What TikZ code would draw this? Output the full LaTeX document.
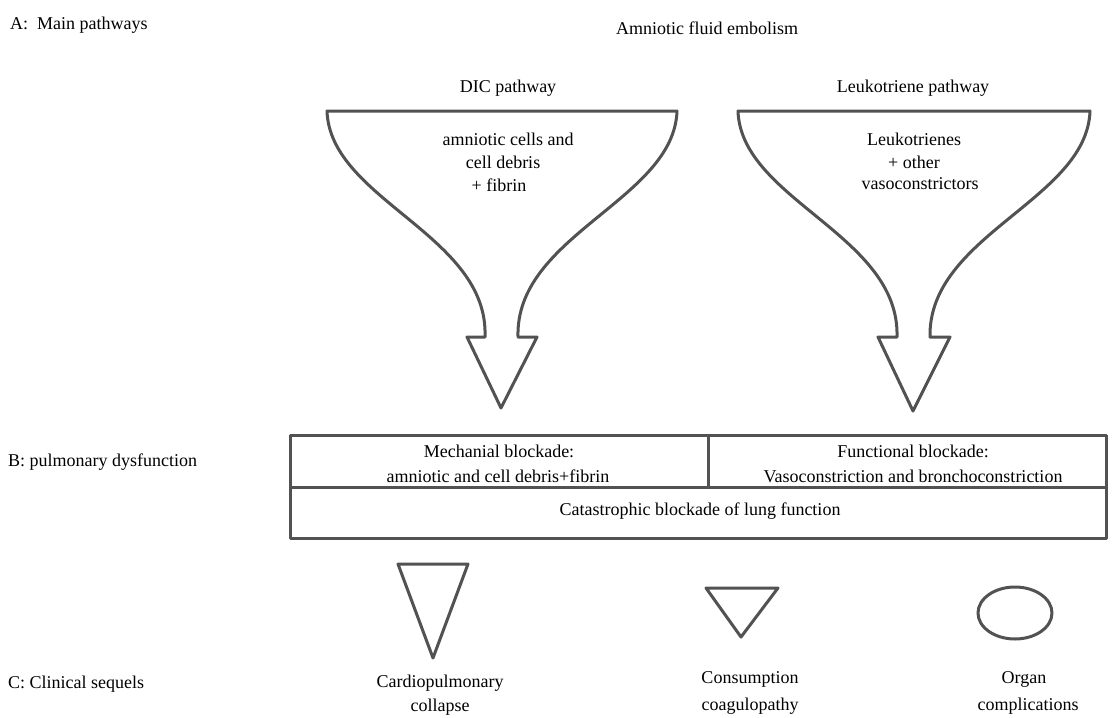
\documentclass[tikz,border=0pt]{standalone}
\usepackage{fontspec}
\setmainfont{Liberation Serif}
\begin{document}
\begin{tikzpicture}[x=1pt,y=-1pt,
  lbl/.style={inner sep=0pt, font=\fontsize{18}{21}\selectfont, text height=12pt, text depth=4pt},
  shp/.style={draw=black!68, line width=3pt, line join=round},
]
\useasboundingbox (0,0) rectangle (1112,718);
\fill[white] (0,0) rectangle (1112,718);

% section labels
\node[lbl, anchor=west] (labA) at (10,25) {A:\ \ Main pathways};
\node[lbl, anchor=west] (labB) at (8,462) {B: pulmonary dysfunction};
\node[lbl, anchor=west] (labC) at (8,684) {C: Clinical sequels};

% title and pathway names
\node[lbl] (title) at (707,30) {Amniotic fluid embolism};
\node[lbl] (dic) at (508,88) {DIC pathway};
\node[lbl] (leuk) at (913,88) {Leukotriene pathway};

% funnel 1
\draw[shp] (327,111) -- (677,111)
  .. controls (674,200) and (515,235) .. (518,337)
  -- (537,337) -- (501,408) -- (467,337) -- (485,337)
  .. controls (489,235) and (330,200) .. (327,111) -- cycle;
\node[lbl] (f1a) at (508,141) {amniotic cells and};
\node[lbl] (f1b) at (503,164) {cell debris};
\node[lbl] (f1c) at (499,187) {+ fibrin};

% funnel 2
\draw[shp] (738,111) -- (1090,111)
  .. controls (1087,200) and (928,235) .. (930,337)
  -- (950,337) -- (913,411) -- (878,337) -- (897,337)
  .. controls (900,235) and (741,200) .. (738,111) -- cycle;
\node[lbl] (f2a) at (914,141) {Leukotrienes};
\node[lbl] (f2b) at (914,164) {+ other};
\node[lbl] (f2c) at (920,185) {vasoconstrictors};

% pulmonary box
\draw[shp] (290,435) rectangle (1106,538);
\draw[shp] (290,487) -- (1106,487);
\draw[shp] (708,435) -- (708,487);
\node[lbl] (mech1) at (499,453) {Mechanial blockade:};
\node[lbl] (mech2) at (498,478) {amniotic and cell debris+fibrin};
\node[lbl] (func1) at (913,453) {Functional blockade:};
\node[lbl] (func2) at (913,478) {Vasoconstriction and bronchoconstriction};
\node[lbl] (cat) at (700,511) {Catastrophic blockade of lung function};

% clinical sequels
\draw[shp] (398,564) -- (468,564) -- (433,658) -- cycle;
\draw[shp] (706,588) -- (778,588) -- (741,637) -- cycle;
\draw[shp] (1015,613) ellipse [x radius=37, y radius=26];
\node[lbl] (s1a) at (440,683) {Cardiopulmonary};
\node[lbl] (s1b) at (440,707) {collapse};
\node[lbl] (s2a) at (750,679) {Consumption};
\node[lbl] (s2b) at (750,706) {coagulopathy};
\node[lbl] (s3a) at (1024,679) {Organ};
\node[lbl] (s3b) at (1028,706) {complications};
\end{tikzpicture}
\end{document}
